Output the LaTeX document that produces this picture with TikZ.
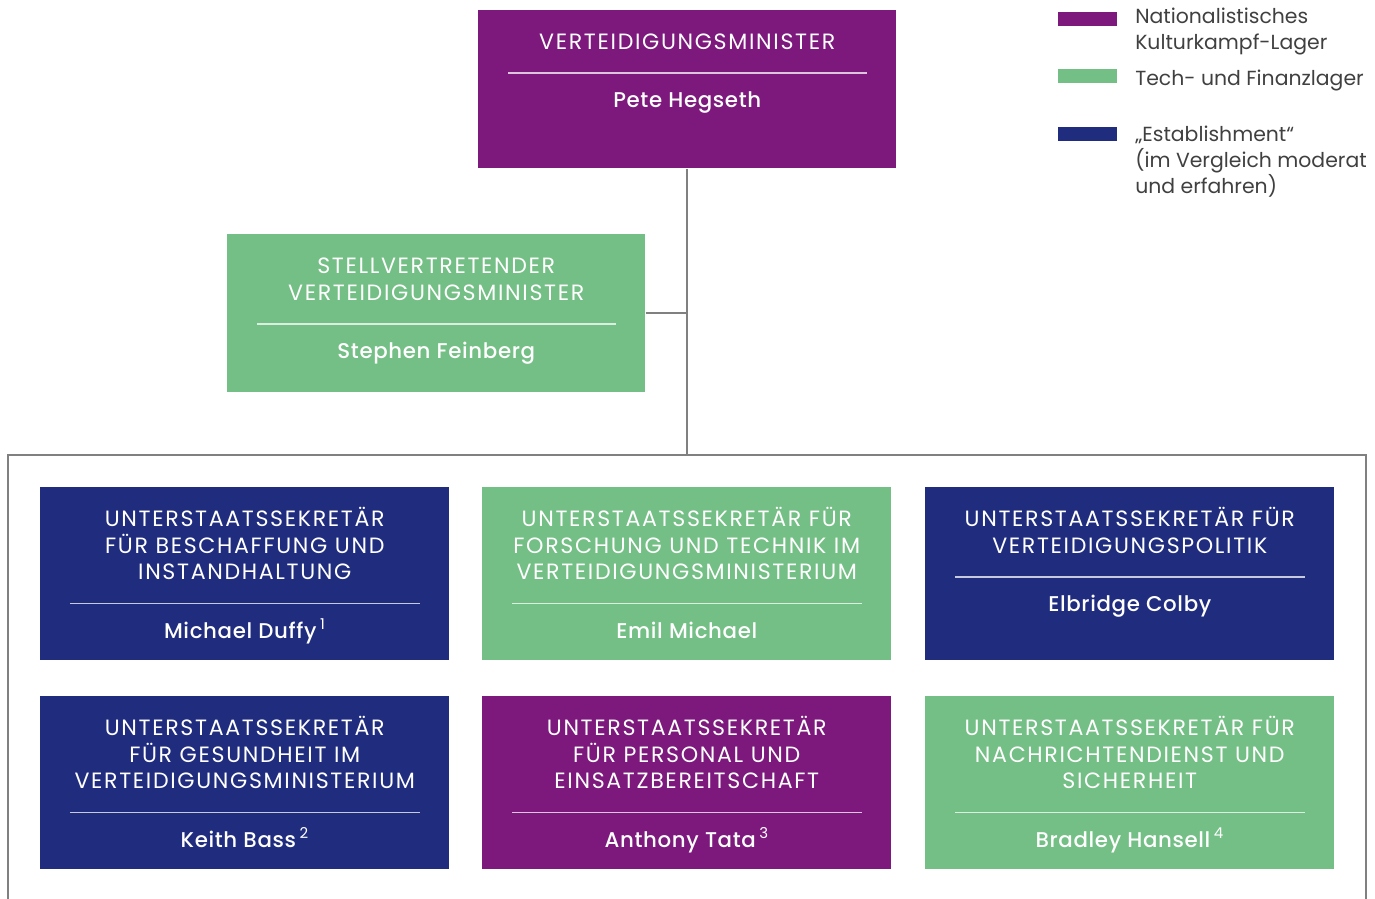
\documentclass[tikz,border=0pt]{standalone}
\usepackage{fontspec}
\setmainfont{Poppins}
\newfontfamily\titlefont{Poppins}[LetterSpace=7.5]
\newfontfamily\namefont{Poppins Medium}[LetterSpace=3]
\newfontfamily\supfont{Poppins}
\usepackage{xcolor}
\definecolor{kulturlila}{RGB}{125,25,125}
\definecolor{techgruen}{RGB}{116,191,133}
\definecolor{estblau}{RGB}{32,45,126}
\definecolor{linegray}{RGB}{128,128,128}
\definecolor{legendtext}{RGB}{64,64,64}
\usepackage{tikz}
\usetikzlibrary{positioning,calc}
\tikzset{
  org_top/.style={rectangle,anchor=north west,
    minimum width=313.5pt,minimum height=118.5pt,inner sep=0pt},
  org_sub/.style={rectangle,anchor=north west,
    minimum width=306.75pt,minimum height=129.75pt,inner sep=0pt},
  org_title/.style={align=center,inner sep=0pt,text=white,
    font=\titlefont\fontsize{16.6}{19.9}\selectfont},
  org_name/.style={inner sep=0pt,text=white,
    font=\namefont\fontsize{16}{18}\selectfont},
  org_rule/.style={draw=white,opacity=.75,line width=0.8pt},
  conn/.style={draw=linegray,line width=1.5pt},
  org_frame/.style={draw=linegray,line width=1.1pt},
  swatch/.style={rectangle,anchor=north west,
    minimum width=44.25pt,minimum height=10.5pt,inner sep=0pt},
  legtext/.style={align=left,inner sep=0pt,text=legendtext,
    font=\fontsize{15.3}{19.5}\selectfont},
}
% box: name, corner, style, rule offset, title, person
\newcommand{\orgbox}[6]{%
  \node[#3] (#1) at #2 {};
  \coordinate (#1-rule) at ($(#1.north)+(0,#4)$);
  \draw[org_rule] ($(#1.west |- #1-rule)+(30,0)$) -- ($(#1.east |- #1-rule)+(-30,0)$);
  \node[org_title,anchor=south] (#1-title) at ($(#1-rule)+(0,-23.5)$) {#5};
  \node[org_name,anchor=base] (#1-name) at ($(#1-rule)+(0,34.5)$) {#6};
}
\newcommand{\fn}[1]{\,\textsuperscript{\supfont #1}}

\begin{document}
\begin{tikzpicture}[x=0.75pt,y=-0.75pt]
  \useasboundingbox (0,0) rectangle (1375,899);
  % top level
  \orgbox{minister}{(478,10)}{org_top,fill=kulturlila}{63}
    {VERTEIDIGUNGSMINISTER}{Pete Hegseth}
  \orgbox{deputy}{(227,234)}{org_top,fill=techgruen}{90}
    {STELLVERTRETENDER\\VERTEIDIGUNGSMINISTER}{Stephen Feinberg}
  % frame round the under secretaries
  \coordinate (fr-tl) at (8,455);
  \coordinate (fr-tr) at (1366,455);
  \draw[org_frame] (fr-tl |- 0,899) -- (fr-tl) -- (fr-tr) -- (fr-tr |- 0,899);
  \draw[conn] (minister.south) -- (minister.south |- fr-tl);
  \draw[conn] (deputy.east) -- (deputy.east -| minister.south);
  % under secretaries
  \orgbox{usd_acq}{(40,487)}{org_sub,fill=estblau}{116.5}
    {UNTERSTAATSSEKRETÄR\\FÜR BESCHAFFUNG UND\\INSTANDHALTUNG}{Michael Duffy\fn{1}}
  \orgbox{usd_rnd}{(482,487)}{org_sub,fill=techgruen}{116.5}
    {UNTERSTAATSSEKRETÄR FÜR\\FORSCHUNG UND TECHNIK IM\\VERTEIDIGUNGSMINISTERIUM}{Emil Michael}
  \orgbox{usd_pol}{(925,487)}{org_sub,fill=estblau}{90}
    {UNTERSTAATSSEKRETÄR FÜR\\VERTEIDIGUNGSPOLITIK}{Elbridge Colby}
  \orgbox{usd_hlt}{(40,696)}{org_sub,fill=estblau}{116.5}
    {UNTERSTAATSSEKRETÄR\\FÜR GESUNDHEIT IM\\VERTEIDIGUNGSMINISTERIUM}{Keith Bass\fn{2}}
  \orgbox{usd_per}{(482,696)}{org_sub,fill=kulturlila}{116.5}
    {UNTERSTAATSSEKRETÄR\\FÜR PERSONAL UND\\EINSATZBEREITSCHAFT}{Anthony Tata\fn{3}}
  \orgbox{usd_int}{(925,696)}{org_sub,fill=techgruen}{116.5}
    {UNTERSTAATSSEKRETÄR FÜR\\NACHRICHTENDIENST UND\\SICHERHEIT}{Bradley Hansell\fn{4}}
  % legend
  \node[swatch,fill=kulturlila] (leg_k) at (1058,12) {};
  \node[legtext,anchor=base west] (leg_k_txt) at (1135,50) {Nationalistisches\\Kulturkampf-Lager};
  \node[swatch,fill=techgruen] (leg_t) at (1058,69) {};
  \node[legtext,anchor=base west] (leg_t_txt) at (1135,85.5) {Tech- und Finanzlager};
  \node[swatch,fill=estblau] (leg_e) at (1058,127) {};
  \node[legtext,anchor=base west] (leg_e_txt) at (1135,193) {„Establishment“\\(im Vergleich moderat\\und erfahren)};
\end{tikzpicture}
\end{document}
